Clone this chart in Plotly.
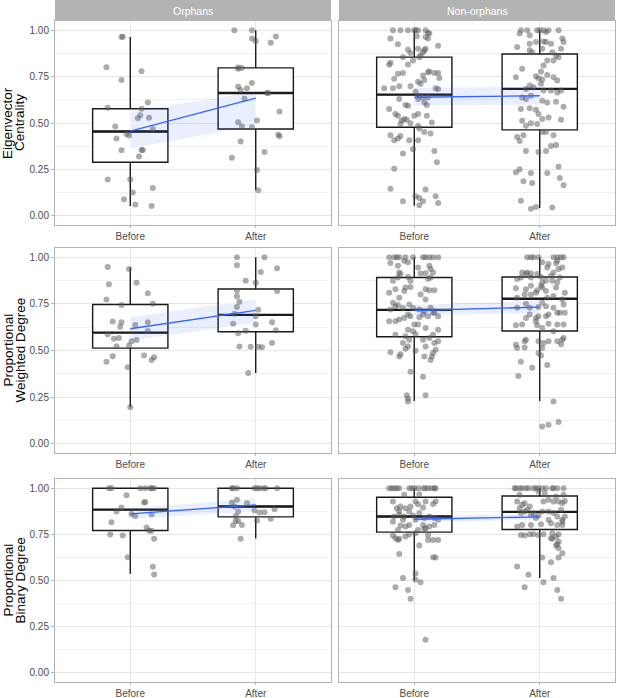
import plotly.graph_objects as go

# ---------------- data ----------------
groups = ["Before", "After"]
facets = ["Orphans", "Non-orphans"]
measures = ["Eigenvector<br>Centrality", "Proportional<br>Weighted Degree", "Proportional<br>Binary Degree"]

# jittered observations: (jitter offset, value)
eig_orph_before = [(-0.07,0.964),(-0.06,0.965),(-0.19,0.80),(-0.07,0.732),(0.09,0.779),(-0.18,0.582),(0.14,0.611),(0.09,0.577),(0.08,0.542),(0.06,0.526),(0.15,0.528),(-0.12,0.481),(-0.03,0.441),(-0.01,0.432),(0.18,0.467),(-0.11,0.416),(-0.07,0.353),(0.09,0.354),(0.10,0.354),(0.07,0.320),(-0.18,0.195),(0.00,0.195),(0.02,0.125),(0.18,0.150),(-0.05,0.089),(0.04,0.061),(0.17,0.052)]
eig_orph_after = [(-0.17,1.0),(-0.03,1.0),(-0.03,0.955),(0.00,0.942),(0.16,0.967),(0.12,0.933),(-0.14,0.799),(-0.14,0.792),(-0.11,0.796),(-0.14,0.696),(-0.12,0.678),(-0.07,0.687),(-0.03,0.716),(-0.09,0.631),(0.09,0.662),(0.10,0.662),(0.19,0.562),(-0.14,0.504),(0.01,0.514),(-0.11,0.481),(-0.03,0.477),(0.18,0.436),(0.19,0.429),(-0.12,0.400),(0.07,0.344),(-0.19,0.313),(0.01,0.246),(0.02,0.137)]

eig_non_before = [(-0.17,1.0),(-0.11,1.0),(-0.05,1.0),(0.0,1.0),(0.01,1.0),(0.03,1.0),(0.09,1.0),(0.11,0.986),(0.12,0.982),(-0.19,0.955),(-0.13,0.924),(0.02,0.968),(0.09,0.964),(0.11,0.955),(0.19,0.917),(-0.05,0.895),(-0.03,0.877),(0.03,0.901),(0.07,0.882),(0.08,0.892),(0.09,0.901),(-0.09,0.855),(-0.01,0.837),(0.04,0.855),(0.05,0.864),(-0.20,0.814),(-0.19,0.825),(-0.05,0.816),(-0.13,0.765),(-0.09,0.770),(0.11,0.774),(0.12,0.778),(0.16,0.770),(0.19,0.770),(0.20,0.743),(0.07,0.756),(0.03,0.723),(0.08,0.732),(-0.16,0.738),(-0.03,0.698),(0.05,0.711),(-0.17,0.687),(-0.12,0.698),(-0.24,0.687),(0.17,0.687),(0.19,0.684),(0.01,0.669),(0.04,0.647),(0.07,0.638),(0.11,0.638),(0.03,0.629),(-0.12,0.629),(0.08,0.611),(0.10,0.597),(-0.07,0.597),(-0.05,0.593),(-0.20,0.575),(-0.15,0.548),(-0.13,0.539),(-0.08,0.521),(-0.10,0.512),(-0.06,0.517),(0.03,0.548),(0.00,0.539),(0.10,0.539),(0.14,0.503),(0.03,0.485),(0.04,0.470),(-0.03,0.499),(-0.11,0.494),(0.08,0.452),(0.13,0.443),(-0.19,0.434),(-0.16,0.407),(-0.13,0.416),(-0.11,0.430),(-0.04,0.407),(0.03,0.407),(-0.09,0.336),(0.16,0.349),(-0.01,0.358),(0.18,0.289),(-0.16,0.253),(-0.19,0.145),(0.09,0.141),(-0.09,0.078),(0.01,0.105),(0.04,0.096),(0.07,0.078),(0.04,0.056),(0.17,0.105),(0.19,0.069)]
eig_non_after = [(-0.15,1.0),(-0.10,1.0),(-0.02,1.0),(0.0,1.0),(0.03,1.0),(0.07,1.0),(0.15,1.0),(-0.16,0.982),(-0.08,0.973),(0.05,0.991),(-0.18,0.910),(-0.08,0.928),(-0.03,0.937),(0.03,0.940),(0.05,0.937),(0.09,0.928),(0.18,0.955),(0.19,0.937),(0.17,0.901),(-0.08,0.892),(-0.06,0.882),(0.02,0.901),(0.10,0.882),(0.13,0.864),(0.15,0.855),(0.06,0.837),(0.11,0.837),(0.03,0.810),(0.01,0.778),(-0.14,0.792),(-0.19,0.747),(-0.03,0.752),(-0.01,0.741),(0.02,0.734),(0.06,0.759),(0.11,0.747),(0.14,0.729),(-0.08,0.702),(-0.11,0.684),(-0.05,0.693),(0.03,0.675),(0.09,0.675),(0.14,0.665),(0.17,0.675),(0.01,0.711),(-0.14,0.638),(-0.07,0.647),(-0.11,0.629),(0.02,0.620),(0.06,0.611),(0.13,0.615),(-0.15,0.575),(-0.08,0.579),(-0.03,0.571),(0.19,0.588),(-0.01,0.548),(0.02,0.521),(0.07,0.530),(0.17,0.517),(-0.14,0.512),(-0.02,0.494),(-0.11,0.485),(-0.07,0.499),(-0.18,0.425),(-0.16,0.403),(-0.13,0.434),(0.02,0.452),(0.05,0.452),(0.11,0.434),(-0.11,0.349),(-0.01,0.344),(0.05,0.349),(0.09,0.376),(0.13,0.382),(-0.19,0.235),(-0.16,0.250),(-0.07,0.231),(0.06,0.231),(0.15,0.264),(0.16,0.204),(0.19,0.165),(-0.13,0.186),(-0.06,0.177),(-0.15,0.081),(-0.07,0.038),(-0.03,0.047),(0.10,0.045)]

wdeg_orph_before = [(-0.18,0.948),(-0.17,0.856),(-0.01,0.937),(0.05,0.863),(0.14,0.807),(-0.19,0.773),(-0.07,0.744),(0.18,0.751),(-0.14,0.655),(-0.07,0.652),(-0.08,0.628),(0.04,0.637),(0.14,0.652),(0.14,0.605),(-0.18,0.587),(-0.13,0.563),(-0.09,0.567),(0.05,0.556),(0.01,0.549),(-0.11,0.523),(-0.01,0.527),(-0.14,0.469),(0.11,0.473),(0.17,0.449),(0.19,0.464),(-0.19,0.439),(-0.02,0.410),(0.00,0.195)]
wdeg_orph_after = [(-0.15,1.0),(0.07,1.0),(-0.15,0.958),(0.17,0.942),(0.04,0.921),(-0.08,0.874),(0.00,0.863),(-0.15,0.821),(0.17,0.819),(-0.15,0.791),(-0.13,0.762),(-0.15,0.733),(0.02,0.718),(-0.17,0.697),(0.00,0.684),(-0.18,0.644),(0.00,0.639),(0.13,0.652),(-0.08,0.606),(0.16,0.608),(-0.14,0.592),(0.13,0.540),(-0.13,0.522),(-0.04,0.520),(0.02,0.520),(0.05,0.518),(-0.06,0.379)]

wdeg_non_before = [(-0.20,1.0),(-0.16,1.0),(-0.14,1.0),(-0.12,1.0),(-0.07,1.0),(-0.01,1.0),(0.07,1.0),(0.09,1.0),(0.12,1.0),(0.15,1.0),(0.19,1.0),(-0.19,0.969),(-0.13,0.955),(-0.08,0.982),(-0.05,0.973),(0.03,0.946),(0.12,0.955),(0.13,0.937),(-0.12,0.919),(-0.11,0.910),(-0.13,0.892),(-0.05,0.895),(0.05,0.913),(0.09,0.915),(0.15,0.919),(-0.17,0.874),(-0.03,0.874),(0.11,0.883),(0.13,0.892),(-0.15,0.829),(-0.12,0.783),(-0.07,0.838),(-0.03,0.841),(-0.08,0.819),(-0.20,0.810),(0.09,0.829),(0.12,0.823),(0.16,0.823),(0.05,0.801),(0.09,0.774),(-0.17,0.756),(-0.15,0.738),(-0.13,0.744),(-0.09,0.729),(-0.04,0.747),(-0.01,0.729),(0.04,0.720),(0.08,0.711),(0.13,0.729),(0.15,0.702),(0.19,0.684),(0.07,0.693),(0.11,0.684),(0.16,0.702),(-0.19,0.720),(-0.05,0.693),(-0.03,0.684),(-0.12,0.666),(-0.08,0.675),(0.04,0.679),(-0.20,0.657),(-0.15,0.657),(0.00,0.639),(0.09,0.621),(0.19,0.612),(-0.05,0.612),(0.03,0.639),(-0.01,0.603),(-0.15,0.585),(-0.07,0.576),(-0.09,0.540),(-0.04,0.558),(0.01,0.588),(0.07,0.558),(0.15,0.585),(0.16,0.540),(0.19,0.549),(0.12,0.567),(-0.19,0.491),(-0.12,0.468),(-0.11,0.480),(-0.07,0.509),(-0.05,0.522),(0.01,0.498),(0.08,0.468),(0.13,0.449),(0.14,0.468),(0.15,0.486),(0.17,0.504),(0.09,0.522),(-0.03,0.386),(0.07,0.359),(-0.06,0.260),(-0.05,0.242),(-0.05,0.227),(0.09,0.260)]
wdeg_non_after = [(-0.10,1.0),(-0.07,1.0),(-0.05,1.0),(-0.01,1.0),(0.11,1.0),(0.14,1.0),(0.17,1.0),(0.19,1.0),(0.02,0.973),(0.07,0.964),(0.13,0.968),(0.14,0.982),(0.06,0.946),(0.15,0.937),(0.18,0.946),(-0.14,0.919),(-0.11,0.910),(-0.10,0.919),(-0.07,0.913),(-0.02,0.910),(0.01,0.895),(0.11,0.919),(0.16,0.892),(0.09,0.901),(0.14,0.866),(-0.18,0.883),(-0.15,0.892),(-0.07,0.892),(0.02,0.866),(0.05,0.874),(0.10,0.874),(-0.19,0.834),(-0.11,0.829),(-0.07,0.847),(0.01,0.847),(0.02,0.838),(-0.02,0.823),(0.05,0.819),(0.13,0.838),(0.20,0.810),(-0.12,0.801),(-0.07,0.801),(-0.03,0.810),(0.06,0.783),(0.11,0.792),(0.18,0.774),(-0.18,0.783),(0.19,0.747),(-0.11,0.751),(-0.08,0.729),(-0.18,0.729),(-0.01,0.733),(0.02,0.756),(0.05,0.738),(0.11,0.729),(0.14,0.702),(0.16,0.702),(0.20,0.702),(0.07,0.693),(-0.01,0.684),(-0.03,0.675),(-0.11,0.675),(-0.08,0.693),(0.05,0.684),(-0.19,0.635),(-0.14,0.639),(-0.02,0.635),(0.07,0.643),(0.14,0.639),(0.19,0.639),(0.02,0.621),(0.11,0.603),(-0.03,0.657),(-0.11,0.558),(-0.12,0.549),(-0.19,0.531),(-0.18,0.513),(-0.12,0.516),(-0.01,0.549),(0.03,0.540),(0.07,0.549),(0.14,0.549),(0.18,0.558),(0.19,0.567),(0.17,0.534),(-0.01,0.486),(0.01,0.473),(0.02,0.513),(-0.15,0.440),(-0.06,0.408),(0.06,0.422),(-0.17,0.363),(0.11,0.227),(0.02,0.092),(0.07,0.101),(0.15,0.116)]

bdeg_orph_before = [(-0.17,1.0),(-0.15,1.0),(0.08,1.0),(0.12,1.0),(0.16,1.0),(0.17,1.0),(0.19,1.0),(-0.03,0.962),(0.11,0.922),(0.12,0.926),(-0.07,0.895),(-0.11,0.874),(0.01,0.861),(0.04,0.850),(0.17,0.857),(-0.15,0.816),(0.13,0.787),(0.15,0.769),(0.17,0.769),(-0.16,0.749),(-0.06,0.744),(0.19,0.726),(-0.02,0.626),(0.18,0.574),(0.19,0.532)]
bdeg_orph_after = [(-0.19,1.0),(-0.18,1.0),(-0.15,1.0),(-0.01,1.0),(0.01,1.0),(0.03,1.0),(0.06,1.0),(0.08,1.0),(0.17,1.0),(-0.15,0.937),(-0.07,0.919),(-0.19,0.922),(-0.17,0.901),(-0.14,0.872),(-0.01,0.879),(0.03,0.868),(0.07,0.870),(0.15,0.886),(-0.16,0.850),(-0.16,0.823),(-0.14,0.823),(0.01,0.825),(-0.18,0.800),(-0.11,0.801),(0.12,0.834),(-0.12,0.726)]

bdeg_non_before = [(-0.20,1.0),(-0.18,1.0),(-0.16,1.0),(-0.14,1.0),(-0.12,1.0),(-0.04,1.0),(-0.02,1.0),(0.0,1.0),(0.03,1.0),(0.07,1.0),(0.09,1.0),(0.11,1.0),(0.14,1.0),(0.16,1.0),(0.17,1.0),(-0.08,0.964),(0.04,0.968),(-0.17,0.928),(-0.14,0.892),(-0.12,0.877),(-0.11,0.901),(-0.07,0.892),(-0.03,0.901),(0.01,0.928),(0.03,0.913),(0.07,0.895),(0.15,0.915),(0.17,0.928),(0.09,0.928),(-0.16,0.847),(-0.12,0.856),(-0.08,0.847),(-0.04,0.874),(-0.01,0.852),(0.04,0.866),(0.08,0.838),(0.12,0.847),(0.16,0.838),(0.19,0.829),(0.01,0.829),(-0.09,0.829),(-0.17,0.819),(-0.11,0.798),(-0.07,0.792),(-0.04,0.801),(0.07,0.801),(0.09,0.783),(0.12,0.792),(0.16,0.801),(0.08,0.780),(-0.13,0.774),(0.03,0.774),(-0.17,0.744),(-0.15,0.729),(-0.13,0.720),(-0.12,0.726),(-0.07,0.738),(-0.04,0.751),(0.01,0.756),(0.11,0.747),(0.15,0.720),(0.19,0.720),(0.04,0.690),(0.11,0.720),(-0.12,0.643),(0.15,0.626),(0.17,0.625),(0.01,0.538),(0.05,0.491),(-0.09,0.513),(0.01,0.504),(-0.15,0.464),(-0.05,0.449),(-0.03,0.401),(0.09,0.179)]
bdeg_non_after = [(-0.20,1.0),(-0.19,1.0),(-0.16,1.0),(-0.14,1.0),(-0.11,1.0),(-0.09,1.0),(-0.05,1.0),(-0.03,1.0),(-0.01,1.0),(0.02,1.0),(0.05,1.0),(0.10,1.0),(0.11,1.0),(0.14,1.0),(0.19,1.0),(-0.16,0.964),(-0.01,0.982),(0.04,0.973),(0.19,0.964),(0.13,0.955),(-0.18,0.928),(-0.12,0.919),(-0.08,0.901),(-0.16,0.892),(-0.14,0.910),(-0.10,0.883),(-0.05,0.866),(0.02,0.874),(0.03,0.928),(0.07,0.937),(0.11,0.928),(0.15,0.928),(0.18,0.919),(0.20,0.931),(-0.15,0.866),(-0.12,0.874),(-0.07,0.856),(-0.03,0.838),(-0.01,0.852),(0.07,0.874),(0.11,0.866),(0.14,0.847),(0.17,0.883),(0.18,0.829),(0.18,0.819),(-0.18,0.792),(-0.14,0.801),(-0.07,0.801),(0.01,0.805),(0.07,0.829),(0.09,0.810),(0.14,0.801),(0.18,0.801),(0.20,0.847),(-0.15,0.747),(-0.12,0.744),(-0.08,0.751),(-0.05,0.751),(-0.01,0.747),(0.03,0.751),(0.10,0.756),(0.13,0.738),(0.15,0.751),(0.10,0.726),(0.15,0.711),(0.13,0.690),(0.14,0.697),(0.09,0.729),(0.02,0.625),(0.09,0.599),(0.15,0.625),(0.18,0.648),(0.15,0.675),(-0.18,0.576),(-0.09,0.531),(-0.12,0.464),(0.03,0.491),(0.11,0.513),(0.14,0.449),(0.17,0.401)]

# boxplot statistics per panel: [Before, After]
box_q1 = [[0.288, 0.468], [0.477, 0.463], [0.513, 0.601], [0.574, 0.605], [0.771, 0.845], [0.762, 0.776]]
box_med = [[0.454, 0.662], [0.653, 0.684], [0.596, 0.691], [0.718, 0.778], [0.884, 0.901], [0.847, 0.872]]
box_q3 = [[0.577, 0.797], [0.855, 0.872], [0.747, 0.830], [0.892, 0.894], [1.0, 1.0], [0.951, 0.958]]
box_lo = [[0.052, 0.137], [0.054, 0.042], [0.195, 0.379], [0.229, 0.229], [0.536, 0.727], [0.500, 0.513]]
box_hi = [[0.964, 1.0], [1.0, 1.0], [0.946, 1.0], [1.0, 1.0], [1.0, 1.0], [1.0, 1.0]]

# linear fit (Before -> After) and its confidence band per panel
fit_mid = [[0.456, 0.634], [0.639, 0.647], [0.617, 0.715], [0.715, 0.733], [0.861, 0.910], [0.832, 0.845]]
fit_lo = [[0.362, 0.488], [0.593, 0.600], [0.552, 0.650], [0.690, 0.700], [0.835, 0.875], [0.817, 0.830]]
fit_hi = [[0.560, 0.669], [0.689, 0.695], [0.679, 0.775], [0.745, 0.765], [0.890, 0.945], [0.847, 0.862]]

panel_points = [
    (eig_orph_before, eig_orph_after), (eig_non_before, eig_non_after),
    (wdeg_orph_before, wdeg_orph_after), (wdeg_non_before, wdeg_non_after),
    (bdeg_orph_before, bdeg_orph_after), (bdeg_non_before, bdeg_non_after),
]

# ---------------- figure ----------------
W, H = 617, 698
FONT = "Liberation Sans, Arial, sans-serif"
col_dom = [[55 / W, 331 / W], [339 / W, 615 / W]]
row_dom = [[1 - 225 / H, 1 - 21 / H], [1 - 453 / H, 1 - 248 / H], [1 - 682 / H, 1 - 479 / H]]
xpos = [1, 2]
BOXW = 0.6

fig = go.Figure()

def sfx(k):
    return "" if k == 0 else str(k + 1)

# boxes first (bottom layer)
for k in range(6):
    for g in range(2):
        fig.add_trace(go.Box(
            x=[xpos[g]], q1=[box_q1[k][g]], median=[box_med[k][g]], q3=[box_q3[k][g]],
            lowerfence=[box_lo[k][g]], upperfence=[box_hi[k][g]],
            width=BOXW, whiskerwidth=0, boxpoints=False,
            fillcolor="white", line=dict(color="#1a1a1a", width=1.4),
            xaxis="x" + sfx(k), yaxis="y" + sfx(k), hoverinfo="skip", showlegend=False))

for k in range(6):
    xa, ya = "x" + sfx(k), "y" + sfx(k)
    # thicker median bars
    for g in range(2):
        fig.add_trace(go.Scatter(
            x=[xpos[g] - BOXW / 2, xpos[g] + BOXW / 2], y=[box_med[k][g]] * 2,
            mode="lines", line=dict(color="#1a1a1a", width=2.4),
            xaxis=xa, yaxis=ya, hoverinfo="skip", showlegend=False))
    # jittered points
    for g in range(2):
        pts = panel_points[k][g]
        fig.add_trace(go.Scatter(
            x=[xpos[g] + p[0] for p in pts], y=[p[1] for p in pts],
            mode="markers", marker=dict(size=6, color="rgba(90,90,90,0.5)", line=dict(width=0)),
            xaxis=xa, yaxis=ya, hoverinfo="skip", showlegend=False))
    # confidence band + fitted line
    fig.add_trace(go.Scatter(x=xpos, y=fit_lo[k], mode="lines", line=dict(width=0),
                             xaxis=xa, yaxis=ya, hoverinfo="skip", showlegend=False))
    fig.add_trace(go.Scatter(x=xpos, y=fit_hi[k], mode="lines", line=dict(width=0),
                             fill="tonexty", fillcolor="rgba(51,102,255,0.10)",
                             xaxis=xa, yaxis=ya, hoverinfo="skip", showlegend=False))
    fig.add_trace(go.Scatter(x=xpos, y=fit_mid[k], mode="lines", line=dict(color="#3366FF", width=1.4),
                             xaxis=xa, yaxis=ya, hoverinfo="skip", showlegend=False))

layout = dict(
    width=W, height=H, margin=dict(l=0, r=0, t=0, b=0),
    paper_bgcolor="white", plot_bgcolor="white", showlegend=False,
    font=dict(family=FONT, color="#4d4d4d"),
    shapes=[], annotations=[],
)

yt = [0, 0.25, 0.5, 0.75, 1.0]
for k in range(6):
    r, c = divmod(k, 2)
    s = sfx(k)
    layout["xaxis" + s] = dict(
        domain=col_dom[c], anchor="y" + s, range=[0.4, 2.6],
        tickvals=xpos, ticktext=groups, showgrid=True, gridcolor="#e6e6e6", gridwidth=1,
        zeroline=False, showline=True, mirror=True, linecolor="#b3b3b3", linewidth=1,
        ticks="outside", ticklen=2, tickcolor="#b3b3b3", tickwidth=0.6,
        tickfont=dict(size=10, color="#4d4d4d", family=FONT), automargin=False, fixedrange=True)
    layout["yaxis" + s] = dict(
        domain=row_dom[r], anchor="x" + s, range=[-0.05, 1.05],
        tickvals=yt, ticktext=["%.2f" % v for v in yt], showticklabels=(c == 0),
        ticks="outside" if c == 0 else "", ticklen=3, tickcolor="#b3b3b3", tickwidth=0.6,
        showgrid=True, gridcolor="#e6e6e6", gridwidth=1,
        minor=dict(tickvals=[0.125, 0.375, 0.625, 0.875], showgrid=True, gridcolor="#f0f0f0", gridwidth=0.6),
        zeroline=False, showline=True, mirror=True, linecolor="#b3b3b3", linewidth=1,
        tickfont=dict(size=10, color="#4d4d4d", family=FONT), automargin=False, fixedrange=True)

# facet strips (top row only)
for c in range(2):
    s = sfx(c)
    layout["shapes"].append(dict(type="rect", xref="x" + s + " domain", yref="paper",
                                 x0=0, x1=1, y0=row_dom[0][1], y1=1.0,
                                 fillcolor="#b3b3b3", line=dict(width=0), layer="below"))
    layout["annotations"].append(dict(text=facets[c], xref="x" + s + " domain", yref="paper",
                                      x=0.5, y=(row_dom[0][1] + 1.0) / 2, showarrow=False,
                                      xanchor="center", yanchor="middle",
                                      font=dict(size=10.5, color="white", family=FONT)))

# row titles (two lines each, tight line spacing like ggplot)
line_x = [8 / W, 20 / W]
for r in range(3):
    for i, part in enumerate(measures[r].split("<br>")):
        layout["annotations"].append(dict(text=part, xref="paper", yref="paper",
                                          x=line_x[i], y=sum(row_dom[r]) / 2, textangle=-90,
                                          showarrow=False, xanchor="center", yanchor="middle",
                                          font=dict(size=13.5, color="black", family=FONT)))

fig.update_layout(**layout)
fig.write_html("out.html", config={"displayModeBar": False},
               post_script="document.body.style.margin='0px';document.body.style.overflow='hidden';")
